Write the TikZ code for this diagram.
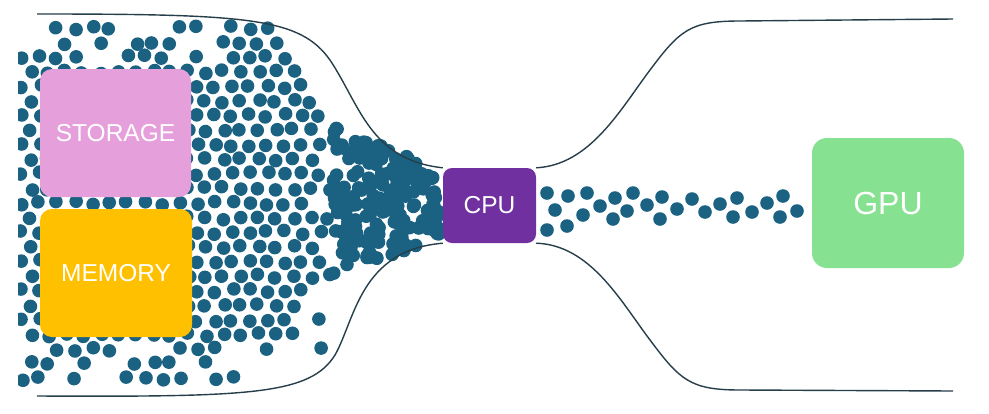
\documentclass[tikz,border=0pt]{standalone}
\usepackage{fontspec}
\setmainfont{Liberation Sans}
\definecolor{ballblue}{RGB}{27,98,130}
\definecolor{wallgrey}{RGB}{38,62,74}
\definecolor{storagepink}{RGB}{229,160,219}
\definecolor{memoryyellow}{RGB}{255,192,0}
\definecolor{cpupurple}{RGB}{112,48,160}
\definecolor{gpugreen}{RGB}{134,226,144}

\begin{document}
\begin{tikzpicture}[x=1pt,y=-1pt,
  wall/.style={wallgrey,line width=1.4pt},
  ball/.style={fill=ballblue},
  chip/.style={rounded corners=12pt,text=white,inner sep=0pt,
    font=\fontsize{24.5}{29}\selectfont}]
   \useasboundingbox (0,0) rectangle (989,413);
   \pgfmathsetseed{4}
   \begin{scope}
    \clip (18,0) rectangle (989,413);
    \foreach \i in {0,...,24}{
      \foreach \j in {0,...,19}{
        \pgfmathsetmacro\px{22+17.5*\j+8.75*mod(\i,2)+4*rnd-2}
        \pgfmathsetmacro\py{28+14.6*\i+4*rnd-2}
        \pgfmathsetmacro\xmax{(\py<50)*290+and(\py>=50,\py<130)*(290+0.55*(\py-50))
          +and(\py>=130,\py<300)*338+and(\py>=300,\py<350)*325+(\py>=350)*250}
        \pgfmathsetmacro\r{rnd}
        \pgfmathsetmacro\keep{and(\px<=\xmax,or(\r>0.35,and(\py>60,and(\py<345,\px<\xmax-25))))}
        \ifdim\keep pt>0.5pt
          \fill[ball] (\px,\py) circle (6.8pt);
        \fi
      }
    }
    \foreach \k in {1,...,200}{
      \pgfmathsetmacro\u{rnd}
      \pgfmathsetmacro\v{2*rnd-1}
      \fill[ball] ({333+106*\u},{203+\v*(76-42*\u)}) circle (6.8pt);
    }
   \end{scope}
   \foreach \sx/\sy in {547/193,568/196,587/193,555/210,547/230,567/226,583/215,
      600/206,615/198,633/193,627/211,613/219,647/205,662/197,660/219,677/209,
      692/199,705/212,720/204,737/198,733/217,752/212,767/203,783/196,780/217,797/211}
     \fill[ball] (\sx,\sy) circle (6.8pt);
   \node[chip,fill=storagepink,minimum width=151pt,minimum height=128pt] (storage) at (115.5,133) {STORAGE};
   \node[chip,fill=memoryyellow,minimum width=152pt,minimum height=128pt] (memory) at (116,273) {MEMORY};
   \node[chip,fill=cpupurple,minimum width=93pt,minimum height=75pt,rounded corners=9pt] (cpu) at (489.5,205.5) {CPU};
   \node[chip,fill=gpugreen,minimum width=152pt,minimum height=130pt,rounded corners=15pt,
     font=\fontsize{32}{38}\selectfont] (gpu) at (888,203) {GPU};
   \draw[wall] (37,14) .. controls (250,14) and (300,18) .. (330,60)
     .. controls (360,105) and (370,160) .. (cpu.north west);
   \draw[wall] (37,396) .. controls (250,397) and (310,395) .. (335,355)
     .. controls (355,320) and (360,250) .. (cpu.south west);
   \draw[wall] (cpu.north east) .. controls (590,165) and (620,110) .. (650,70)
     .. controls (680,30) and (690,21) .. (740,21) -- (953,19);
   \draw[wall] (cpu.south east) .. controls (590,245) and (620,300) .. (650,340)
     .. controls (680,380) and (690,390) .. (740,390) -- (953,391);
  \end{tikzpicture}
\end{document}
